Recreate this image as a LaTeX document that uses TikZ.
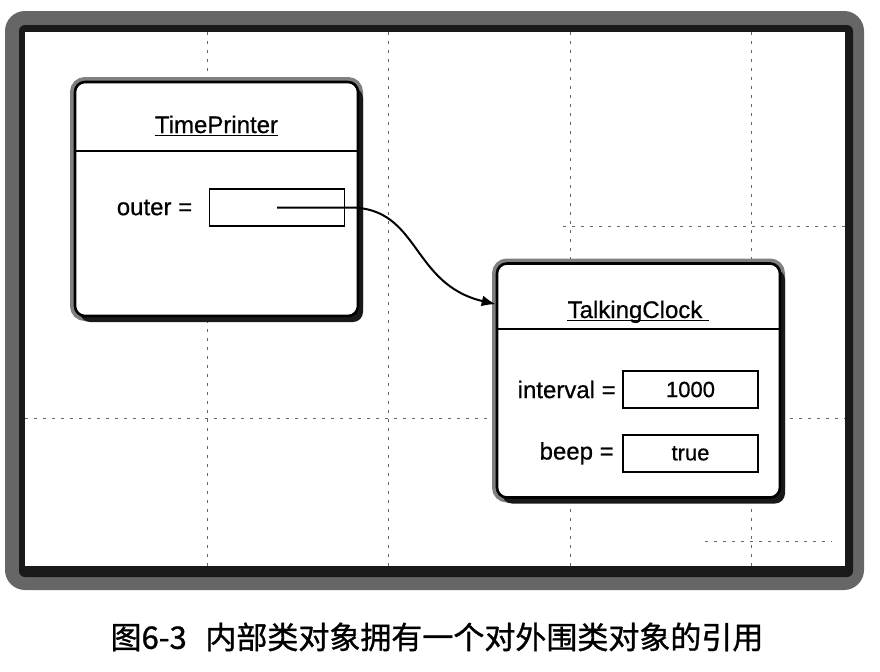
\documentclass[tikz,border=0pt]{standalone}
\usepackage{fontspec}
\setmainfont[FakeBold=0.6]{Liberation Sans}
\newfontfamily\cjkfont[FakeBold=1]{Noto Sans CJK SC}
\usetikzlibrary{arrows.meta,positioning,shadows}

\begin{document}
\begin{tikzpicture}[
        x=0.5pt, y=-0.5pt,
        objbox/.style={draw, line width=1.3pt, fill=white, rounded corners=5pt,
            minimum width=141.5pt, minimum height=117pt,
            preaction={draw=black!50, line width=5pt},
            general shadow={fill=black!90, shadow xshift=2.5pt, shadow yshift=-3pt}},
        field/.style={draw, line width=0.9pt, minimum width=67.5pt, minimum height=18.5pt,
            inner sep=0pt, font=\fontsize{11}{13}\selectfont},
        fieldname/.style={font=\fontsize{12}{14}\selectfont, inner sep=0pt},
        classname/.style={font=\fontsize{12}{14}\selectfont, inner sep=0pt, anchor=base},
        uline/.style={line width=0.8pt},
        divider/.style={line width=1.1pt},
        gridline/.style={black!60, line width=0.45pt, dash pattern=on 1.5pt off 3pt},
        ref/.style={-{Latex[length=7pt,width=5.5pt]}, line width=1pt}
    ]
    \useasboundingbox (0,0) rectangle (880,671);

    % frame
    \fill[black!60, rounded corners=10pt] (5,11) rectangle (864,590);
    \fill[black!90, rounded corners=3pt] (19,25) rectangle (853,577);
    \fill[white] (25,32) rectangle (845,566);

    % grid
    \foreach \gx in {207,388,570,751}
        \draw[gridline] (\gx,32) -- (\gx,566);
    \draw[gridline] (25,418) -- (845,418);
    \draw[gridline] (563,226) -- (845,226);
    \draw[gridline] (705,541) -- (832,541);

    % outer object
    \node[objbox] (tp) at (216.5,199) {};
    \node[classname] (tpname) at (216.5,133) {TimePrinter};
    \draw[uline] ([yshift=-1.2pt]tpname.base west) -- ([yshift=-1.2pt]tpname.base east);
    \draw[divider] ([yshift=-35pt]tp.north west) -- ([yshift=-35pt]tp.north east);
    \node[field] (outerfld) at (277,207.5) {};
    \node[fieldname, left=8pt of outerfld] (outerlbl) {outer =};

    % inner object
    \node[objbox] (tc) at (638.5,380.5) {};
    \node[classname] (tcname) at (635,318) {TalkingClock};
    \draw[uline] ([yshift=-1.2pt]tcname.base west) -- ([xshift=3pt,yshift=-1.2pt]tcname.base east);
    \draw[divider] ([yshift=-33.5pt]tc.north west) -- ([yshift=-33.5pt]tc.north east);
    \node[field] (intfld) at (690.5,389.5) {1000};
    \node[field, below=12.5pt of intfld] (beepfld) {true};
    \node[fieldname, left=3pt of intfld] (intlbl) {interval =};
    \node[fieldname, left=4pt of beepfld] (beeplbl) {beep =};

    \draw[ref] (outerfld.center) -- ++(73,0) .. controls +(70,0) and +(-85,-20) .. ([yshift=-21pt]tc.north west);

    \node[font=\cjkfont\fontsize{15.5}{18}\selectfont] (caption) at (437,637)
        {图6-3\hspace{0.6em}内部类对象拥有一个对外围类对象的引用};
\end{tikzpicture}
\end{document}
